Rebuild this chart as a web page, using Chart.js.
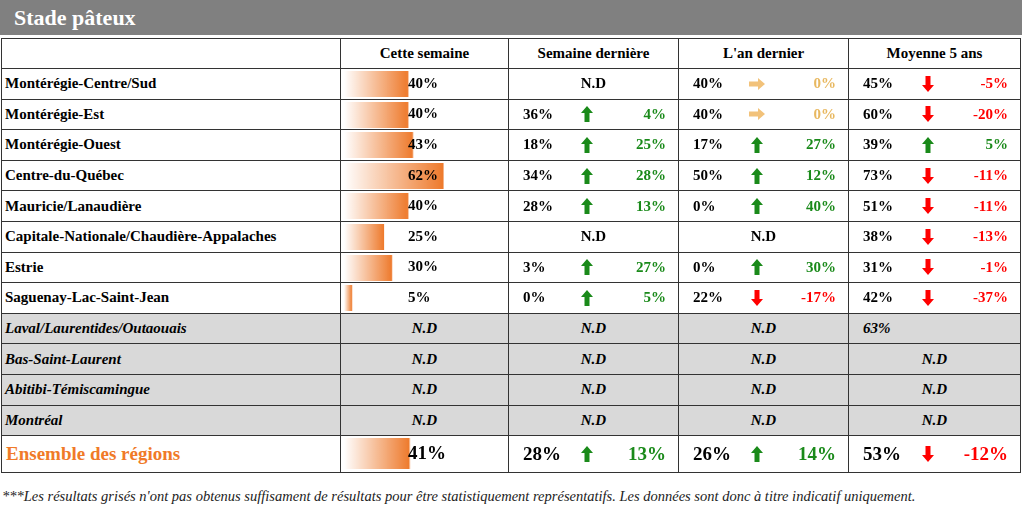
<!DOCTYPE html>
<html><head><meta charset="utf-8">
<script src="https://cdn.jsdelivr.net/npm/chart.js@4"></script>
<style>
body{margin:0;width:1024px;height:530px;background:#fff;font-family:"Liberation Serif",serif;overflow:hidden}
#title{position:absolute;left:0;top:0;width:1022px;height:35px;background:#808080;color:#fff;font-weight:bold;font-size:22px;line-height:35px;padding-left:14px;box-sizing:border-box}
table{position:absolute;left:1px;top:38px;border-collapse:collapse;table-layout:fixed}
td{border:1px solid #333;padding:0;font-weight:bold;font-size:15px;height:30.6px;position:relative;box-sizing:border-box;white-space:nowrap;overflow:hidden}
tr.hd td{text-align:center;height:30px}
td.reg{padding-left:3px}
tr.gray td{background:#d9d9d9;font-style:italic}
.cmp{display:flex;align-items:center;height:100%}
.cmp .v{width:45px;padding-left:14px}
.cmp .a{flex:1;text-align:center;display:flex;justify-content:center}
.cmp .d{width:60px;text-align:right;padding-right:12px}
.nd{text-align:center}
.lbl{position:absolute;left:67px;top:50%;transform:translateY(-55%)}
canvas{position:absolute;left:3px;top:2px}
tr.tot td{height:37px;font-size:19px}
tr.tot td.reg{color:#f07a28;font-size:19px;padding-left:4px}
#foot{position:absolute;left:2px;top:488px;font-style:italic;font-size:14.5px;color:#222}
</style></head><body>
<div id="title">Stade pâteux</div>
<table id="t"><colgroup><col style="width:339px"><col style="width:168px"><col style="width:170px"><col style="width:170px"><col style="width:172px"></colgroup></table>
<div id="foot">***Les résultats grisés n'ont pas obtenus suffisament de résultats pour être statistiquement représentatifs. Les données sont donc à titre indicatif uniquement.</div>
<script>
const headers=["","Cette semaine","Semaine dernière","L'an dernier","Moyenne 5 ans"];
const regions=["Montérégie-Centre/Sud","Montérégie-Est","Montérégie-Ouest","Centre-du-Québec","Mauricie/Lanaudière","Capitale-Nationale/Chaudière-Appalaches","Estrie","Saguenay-Lac-Saint-Jean","Laval/Laurentides/Outaouais","Bas-Saint-Laurent","Abitibi-Témiscamingue","Montréal","Ensemble des régions"];
const cetteSemaine=[40,40,43,62,40,25,30,5,null,null,null,null,41];
const semDerniere=[null,36,18,34,28,null,3,0,null,null,null,null,28];
const semDelta=[null,4,25,28,13,null,27,5,null,null,null,null,13];
const anDernier=[40,40,17,50,0,null,0,22,null,null,null,null,26];
const anDelta=[0,0,27,12,40,null,30,-17,null,null,null,null,14];
const moy5=[45,60,39,73,51,38,31,42,63,null,null,null,53];
const moyDelta=[-5,-20,5,-11,-11,-13,-1,-37,null,null,null,null,-12];
const grayRows=[8,9,10,11];

function arrow(d){
  if(d>0)return '<svg width="12" height="16" viewBox="0 0 12 16"><path d="M6 0L12 7H8.5V16H3.5V7H0Z" fill="#1a8a1a"/></svg>';
  if(d<0)return '<svg width="12" height="16" viewBox="0 0 12 16"><path d="M6 16L12 9H8.5V0H3.5V9H0Z" fill="#ff0000"/></svg>';
  return '<svg width="16" height="12" viewBox="0 0 16 12"><path d="M16 6L9 0V3.5H0V8.5H9V12Z" fill="#f2c27a"/></svg>';
}
function col(d){return d>0?'#1a8a1a':d<0?'#ff0000':'#e8b860';}
function cmp(v,d){
  if(v==null)return '<td class="nd">N.D</td>';
  if(d==null)return '<td><div class="cmp"><span class="v">'+v+'%</span></div></td>';
  return '<td><div class="cmp"><span class="v">'+v+'%</span><span class="a">'+arrow(d)+'</span><span class="d" style="color:'+col(d)+'">'+d+'%</span></div></td>';
}
const t=document.getElementById('t');
let h='<tr class="hd">'+headers.map(x=>'<td>'+x+'</td>').join('')+'</tr>';
regions.forEach((r,i)=>{
  const cls=grayRows.includes(i)?'gray':(i===12?'tot':'');
  h+='<tr class="'+cls+'"><td class="reg">'+r+'</td>';
  h+= cetteSemaine[i]==null?'<td class="nd">N.D</td>':'<td><canvas id="c'+i+'" width="164" height="'+(i===12?31:26)+'"></canvas><span class="lbl">'+cetteSemaine[i]+'%</span></td>';
  h+=cmp(semDerniere[i],semDelta[i])+cmp(anDernier[i],anDelta[i])+cmp(moy5[i],moyDelta[i])+'</tr>';
});
t.innerHTML+=h;
// data bars via Chart.js
cetteSemaine.forEach((v,i)=>{
  if(v==null)return;
  const el=document.getElementById('c'+i);
  new Chart(el,{type:'bar',data:{labels:[regions[i]],datasets:[{data:[v],
    backgroundColor:(ctx)=>{const c=ctx.chart,a=c.chartArea;if(!a)return '#f07a28';
      const x0=c.scales.x.getPixelForValue(0),x1=c.scales.x.getPixelForValue(v);
      const g=c.ctx.createLinearGradient(x0,0,x1,0);g.addColorStop(0,'#ffffff');g.addColorStop(1,'#ee7a2c');return g;},
    borderColor:'#ee7a2c',borderWidth:{right:1,top:0,bottom:0,left:0},barPercentage:1,categoryPercentage:1}]},
    options:{indexAxis:'y',responsive:false,animation:false,events:[],layout:{padding:0},
      plugins:{legend:{display:false},tooltip:{enabled:false}},
      scales:{x:{display:false,min:0,max:100},y:{display:false}}}});
  el.style.width='160px';
});
</script></body></html>
